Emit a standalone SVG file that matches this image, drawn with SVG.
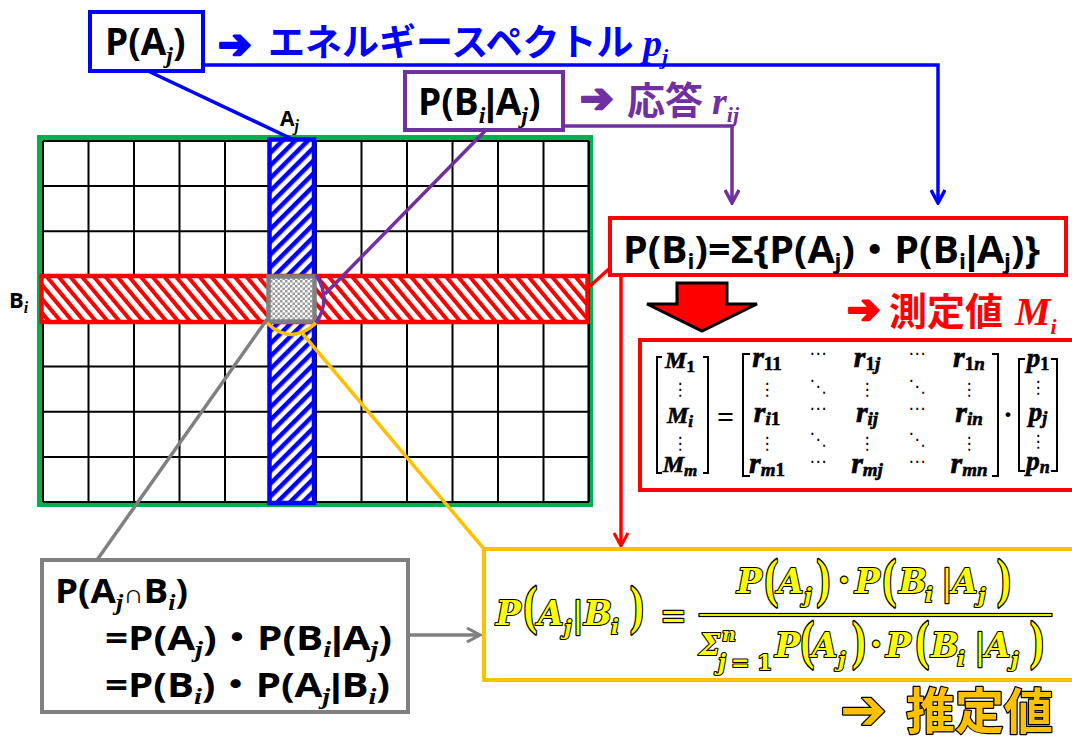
<svg xmlns="http://www.w3.org/2000/svg" width="1072" height="738" viewBox="0 0 1072 738">
<style>
.b{font-family:"Open Sans","Noto Sans CJK JP",sans-serif;font-weight:700;fill:#000}
.bar{font-family:"Liberation Sans",sans-serif;font-weight:700}
.jp{font-family:"Noto Sans CJK JP",sans-serif;font-weight:700}
.si{font-family:"Liberation Serif",serif;font-style:italic;font-weight:700}
.ar{font-family:"DejaVu Sans",sans-serif;stroke-width:2.5;stroke-linejoin:round}
.m{font-family:"Liberation Serif",serif;font-style:italic;font-weight:700;fill:#000;stroke:#000;stroke-width:0.6;text-anchor:middle}
.mu{font-family:"Liberation Serif",serif;font-style:normal;font-weight:700}
.d{font-family:"DejaVu Sans",sans-serif;font-size:17px;text-anchor:middle;fill:#000}
.yf{font-family:"DejaVu Serif",serif;font-style:italic;font-weight:700;fill:#FFFF00;stroke:#000;stroke-width:2.2;paint-order:stroke;stroke-linejoin:round}
.yu{font-family:"DejaVu Serif",serif;font-weight:700;fill:#FFFF00;stroke:#000;stroke-width:2.2;paint-order:stroke;stroke-linejoin:round}
.yp{font-family:"Liberation Serif",serif;font-weight:700;fill:#FFFF00;stroke:#000;stroke-width:2.4;paint-order:stroke;stroke-linejoin:round;text-anchor:middle}
.box{fill:#fff;stroke-width:4}
.ln{fill:none;stroke-width:3.5}
</style>
<defs>
<pattern id="hb" patternUnits="userSpaceOnUse" width="9" height="9" patternTransform="rotate(45)">
<rect width="9" height="9" fill="#fff"/><rect width="4.5" height="9" fill="#0000FF"/>
</pattern>
<pattern id="hr" patternUnits="userSpaceOnUse" width="9" height="9" patternTransform="rotate(-40)">
<rect width="9" height="9" fill="#fff"/><rect width="4" height="9" fill="#FF0000"/>
</pattern>
<pattern id="ck" patternUnits="userSpaceOnUse" width="5" height="5">
<rect width="5" height="5" fill="#fff"/><rect width="2.5" height="2.5" fill="#9a9a9a"/><rect x="2.5" y="2.5" width="2.5" height="2.5" fill="#9a9a9a"/>
</pattern>
<marker id="mb" viewBox="0 0 16 16" markerUnits="userSpaceOnUse" markerWidth="16" markerHeight="16" refX="14" refY="8" orient="auto"><path d="M1,1 L14,8 L1,15" fill="none" stroke="#0000FF" stroke-width="3.5"/></marker>
<marker id="mp" viewBox="0 0 16 16" markerUnits="userSpaceOnUse" markerWidth="16" markerHeight="16" refX="14" refY="8" orient="auto"><path d="M1,1 L14,8 L1,15" fill="none" stroke="#7030A0" stroke-width="3.5"/></marker>
<marker id="mr" viewBox="0 0 16 16" markerUnits="userSpaceOnUse" markerWidth="16" markerHeight="16" refX="14" refY="8" orient="auto"><path d="M1,1 L14,8 L1,15" fill="none" stroke="#FF0000" stroke-width="3"/></marker>
<marker id="mg" viewBox="0 0 16 16" markerUnits="userSpaceOnUse" markerWidth="16" markerHeight="16" refX="14" refY="8" orient="auto"><path d="M1,1 L14,8 L1,15" fill="none" stroke="#808080" stroke-width="3"/></marker>
</defs>
<rect width="1072" height="738" fill="#fff"/>

<g id="grid">
<rect x="40" y="138" width="550" height="366" fill="#fff" stroke="#00B050" stroke-width="6"/>
<path stroke="#000" stroke-width="2" fill="none" d="M43 141V502M88.5 141V502M134 141V502M179.5 141V502M225 141V502M270.5 141V502M316 141V502M361.5 141V502M407 141V502M452.5 141V502M498 141V502M543.5 141V502M589 141V502M43 141H589M43 186.1H589M43 231.3H589M43 276.4H589M43 321.5H589M43 366.6H589M43 411.8H589M43 456.9H589M43 502H589"/>
<text class="b" x="280" y="126" font-size="21">A<tspan class="si" font-size="16" dy="5">j</tspan></text>
<text class="b" x="9" y="308" font-size="22">B<tspan class="si" font-size="16" dy="5">i</tspan></text>
</g>

<g id="column-Aj">
<rect x="269.5" y="139.5" width="44.5" height="363.5" fill="url(#hb)" stroke="#0000FF" stroke-width="4.5"/>
</g>
<g id="row-Bi">
<rect x="41.5" y="276" width="546" height="46" fill="url(#hr)" stroke="#FF0000" stroke-width="4.5"/>
</g>
<g id="cell-AjBi">
<rect x="268.5" y="276.5" width="46" height="45" fill="url(#ck)" stroke="#808080" stroke-width="4.5"/>
</g>

<g id="connectors">
<polyline class="ln" stroke="#0000FF" points="203,65 938,65 938,203" marker-end="url(#mb)"/>
<line class="ln" stroke="#0000FF" x1="148" y1="71" x2="292" y2="139"/>
<polyline class="ln" stroke="#7030A0" points="563,126 732,126 732,203" marker-end="url(#mp)"/>
<line class="ln" stroke="#7030A0" x1="485" y1="131" x2="325" y2="294"/>
<path class="ln" stroke="#7030A0" d="M316,275 Q332,299 316,323"/>
<line class="ln" stroke="#FF0000" stroke-width="3" x1="588" y1="288" x2="611" y2="267"/>
<line class="ln" stroke="#FF0000" stroke-width="3" x1="621" y1="276" x2="621" y2="546" marker-end="url(#mr)"/>
<line class="ln" stroke="#808080" stroke-width="3" x1="268" y1="318" x2="97" y2="560"/>
<line class="ln" stroke="#808080" stroke-width="3" x1="408" y1="635" x2="480" y2="635" marker-end="url(#mg)"/>
<path class="ln" stroke="#FFC000" d="M267,323 Q291,346 316,323"/>
<line class="ln" stroke="#FFC000" x1="302" y1="333" x2="484" y2="549"/>
</g>

<g id="node-PAj">
<rect class="box" x="90" y="12" width="113" height="59" stroke="#0000FF"/>
<text class="b" x="105" y="55" font-size="37">P(A<tspan class="si" font-size="24" dy="8">j</tspan><tspan dy="-8">)</tspan></text>
<text class="ar" x="218" y="58" font-size="40" fill="#0000FF" stroke="#0000FF">➔</text>
<text class="jp" x="268" y="56" font-size="37" fill="#0000FF">エネルギースペクトル</text>
<text class="si" x="643" y="56" font-size="38" fill="#0000FF">p<tspan font-size="22" dy="8">j</tspan></text>
</g>

<g id="node-PBiAj">
<rect class="box" x="405" y="72" width="158" height="58" stroke="#7030A0"/>
<text class="b" x="418" y="115" font-size="37">P(B<tspan class="si" font-size="24" dy="8">i</tspan><tspan class="bar" dy="-8">|</tspan><tspan>A</tspan><tspan class="si" font-size="24" dy="8">j</tspan><tspan dy="-8">)</tspan></text>
<text class="ar" x="580" y="112" font-size="40" fill="#7030A0" stroke="#7030A0">➔</text>
<text class="jp" x="627" y="114" font-size="38" fill="#7030A0">応答</text>
<text class="si" x="712" y="114" font-size="38" fill="#7030A0">r<tspan font-size="22" dy="8">ij</tspan></text>
</g>

<g id="node-PBi">
<rect class="box" x="610" y="218" width="456" height="57" stroke="#FF0000"/>
<text class="b" x="623" y="263" font-size="38" textLength="417" lengthAdjust="spacingAndGlyphs">P(B<tspan font-size="22" dy="6">i</tspan><tspan dy="-6">)=Σ{P(A</tspan><tspan font-size="22" dy="6">j</tspan><tspan dy="-6">)・P(B</tspan><tspan font-size="22" dy="6">i</tspan><tspan class="bar" dy="-6">|</tspan><tspan>A</tspan><tspan font-size="22" dy="6">j</tspan><tspan dy="-6">)}</tspan></text>
<polygon points="677,283 727,283 727,304 757,304 702,331 647,304 677,304" fill="#FF0000" stroke="#000" stroke-width="3" stroke-linejoin="miter"/>
<text class="ar" x="847" y="323" font-size="40" fill="#FF0000" stroke="#FF0000">➔</text>
<text class="jp" x="889" y="325" font-size="38" fill="#FF0000">測定値</text>
<text class="si" x="1015" y="325" font-size="40" fill="#FF0000">M<tspan font-size="22" dy="9">i</tspan></text>
</g>

<g id="node-matrix">
<rect class="box" x="640" y="340" width="440" height="150" stroke="#FF0000" stroke-width="4.5"/>
<path fill="none" stroke="#000" stroke-width="2" d="M662,357H657V473H662M703,357H708V473H703M750,354H743V476H750M992,354H998V476H992M1025,359H1019V471H1025M1051,359H1057V471H1051"/>
<text class="m" x="680" y="368" font-size="24">M<tspan class="mu" font-size="17" dy="4">1</tspan></text>
<text class="m" x="680" y="423" font-size="24">M<tspan font-size="17" dy="4">i</tspan></text>
<text class="m" x="680" y="472" font-size="24">M<tspan font-size="17" dy="4">m</tspan></text>
<text class="d" x="680" y="395">⋮</text>
<text class="d" x="680" y="449">⋮</text>
<text class="mu" x="725.5" y="427" font-size="30" text-anchor="middle">=</text>
<text class="m" x="767" y="367" font-size="30">r<tspan class="mu" font-size="19" dy="3">11</tspan></text>
<text class="m" x="767" y="422" font-size="30">r<tspan font-size="19" dy="3">i</tspan><tspan class="mu" font-size="19">1</tspan></text>
<text class="m" x="767" y="473" font-size="30">r<tspan font-size="19" dy="3">m</tspan><tspan class="mu" font-size="19">1</tspan></text>
<text class="m" x="867" y="367" font-size="30">r<tspan class="mu" font-size="19" dy="3">1</tspan><tspan font-size="19">j</tspan></text>
<text class="m" x="867" y="422" font-size="30">r<tspan font-size="19" dy="3">ij</tspan></text>
<text class="m" x="867" y="473" font-size="30">r<tspan font-size="19" dy="3">mj</tspan></text>
<text class="m" x="969" y="367" font-size="30">r<tspan class="mu" font-size="19" dy="3">1</tspan><tspan font-size="19">n</tspan></text>
<text class="m" x="969" y="422" font-size="30">r<tspan font-size="19" dy="3">in</tspan></text>
<text class="m" x="969" y="473" font-size="30">r<tspan font-size="19" dy="3">mn</tspan></text>
<text class="d" x="818" y="359">⋯</text>
<text class="d" x="917" y="359">⋯</text>
<text class="d" x="818" y="414">⋯</text>
<text class="d" x="917" y="414">⋯</text>
<text class="d" x="818" y="467">⋯</text>
<text class="d" x="917" y="467">⋯</text>
<text class="d" x="767" y="395">⋮</text>
<text class="d" x="867" y="395">⋮</text>
<text class="d" x="969" y="395">⋮</text>
<text class="d" x="818" y="392">⋱</text>
<text class="d" x="917" y="392">⋱</text>
<text class="d" x="767" y="449">⋮</text>
<text class="d" x="867" y="449">⋮</text>
<text class="d" x="969" y="449">⋮</text>
<text class="d" x="818" y="445">⋱</text>
<text class="d" x="917" y="445">⋱</text>
<text class="mu" x="1008" y="424" font-size="30" text-anchor="middle">·</text>
<text class="m" x="1038" y="367" font-size="27">p<tspan class="mu" font-size="18" dy="3">1</tspan></text>
<text class="m" x="1038" y="421" font-size="27">p<tspan font-size="18" dy="3">j</tspan></text>
<text class="m" x="1038" y="470" font-size="27">p<tspan font-size="18" dy="3">n</tspan></text>
<text class="d" x="1038" y="393">⋮</text>
<text class="d" x="1038" y="447">⋮</text>
</g>

<g id="node-joint">
<rect class="box" x="42" y="560" width="366" height="152" stroke="#808080"/>
<text class="b" x="55" y="603" font-size="34" textLength="133" lengthAdjust="spacingAndGlyphs">P(A<tspan class="si" font-size="24" dy="7">j</tspan><tspan font-family="Liberation Sans" font-size="26" dy="-7">∩</tspan><tspan>B</tspan><tspan class="si" font-size="24" dy="7">i</tspan><tspan dy="-7">)</tspan></text>
<text class="b" x="105" y="650" font-size="34" textLength="287" lengthAdjust="spacingAndGlyphs">=P(A<tspan class="si" font-size="24" dy="7">j</tspan><tspan dy="-7">)・P(B</tspan><tspan class="si" font-size="24" dy="7">i</tspan><tspan class="bar" dy="-7">|</tspan><tspan>A</tspan><tspan class="si" font-size="24" dy="7">j</tspan><tspan dy="-7">)</tspan></text>
<text class="b" x="105" y="697" font-size="34" textLength="285" lengthAdjust="spacingAndGlyphs">=P(B<tspan class="si" font-size="24" dy="7">i</tspan><tspan dy="-7">)・P(A</tspan><tspan class="si" font-size="24" dy="7">j</tspan><tspan class="bar" dy="-7">|</tspan><tspan>B</tspan><tspan class="si" font-size="24" dy="7">i</tspan><tspan dy="-7">)</tspan></text>
</g>

<g id="node-bayes">
<rect class="box" x="484" y="549" width="600" height="131" stroke="#FFC000" stroke-width="4.5"/>
<text class="yf" x="496" y="625" font-size="33">P</text>
<text class="yp" font-size="40" transform="translate(530.5,623) scale(1,1.3)">(</text>
<text class="yf" x="538" y="625" font-size="33">A</text>
<text class="yf" x="564" y="635" font-size="21">j</text>
<text class="yp" x="578" y="627" font-size="38">|</text>
<text class="yf" x="584" y="625" font-size="33">B</text>
<text class="yf" x="611" y="634" font-size="21">i</text>
<text class="yp" font-size="40" transform="translate(637,623) scale(1,1.3)">)</text>
<text class="yp" x="673.5" y="630" font-size="42">=</text>

<text class="yf" x="737" y="593" font-size="33">P</text>
<text class="yp" font-size="40" transform="translate(771.5,596) scale(1,1.3)">(</text>
<text class="yf" x="778" y="593" font-size="33">A</text>
<text class="yf" x="804" y="603" font-size="21">j</text>
<text class="yp" font-size="40" transform="translate(823.5,596) scale(1,1.3)">)</text>
<text class="yp" x="844" y="593" font-size="38">·</text>
<text class="yf" x="855" y="593" font-size="33">P</text>
<text class="yp" font-size="40" transform="translate(889.5,596) scale(1,1.3)">(</text>
<text class="yf" x="899" y="593" font-size="33">B</text>
<text class="yf" x="925" y="602" font-size="21">i</text>
<text class="yp" x="947" y="595" font-size="38">|</text>
<text class="yf" x="952" y="593" font-size="33">A</text>
<text class="yf" x="978" y="603" font-size="21">j</text>
<text class="yp" font-size="40" transform="translate(1004,596) scale(1,1.3)">)</text>

<rect x="699" y="613.5" width="353" height="3" fill="#FFFF00" stroke="#000" stroke-width="1.2"/>

<text class="yf" x="699" y="655" font-size="30">Σ</text>
<text class="yf" x="722" y="641" font-size="19">n</text>
<text class="yf" x="718" y="670" font-size="22">j</text>
<text class="yu" x="731" y="670" font-size="22">=</text>
<text class="yu" x="757" y="670" font-size="22">1</text>
<text class="yf" x="775" y="657" font-size="33">P</text>
<text class="yp" font-size="40" transform="translate(807.5,658) scale(1,1.3)">(</text>
<text class="yf" x="812" y="657" font-size="33">A</text>
<text class="yf" x="838" y="667" font-size="21">j</text>
<text class="yp" font-size="40" transform="translate(859,658) scale(1,1.3)">)</text>
<text class="yp" x="876" y="657" font-size="38">·</text>
<text class="yf" x="886" y="657" font-size="33">P</text>
<text class="yp" font-size="40" transform="translate(922.5,658) scale(1,1.3)">(</text>
<text class="yf" x="931" y="657" font-size="33">B</text>
<text class="yf" x="957" y="666" font-size="21">i</text>
<text class="yp" x="980" y="659" font-size="38">|</text>
<text class="yf" x="985" y="657" font-size="33">A</text>
<text class="yf" x="1011" y="667" font-size="21">j</text>
<text class="yp" font-size="40" transform="translate(1037,658) scale(1,1.3)">)</text>
</g>

<g id="label-estimate">
<text class="ar" x="840" y="729" font-size="56" fill="#FFC000" stroke="#000" stroke-width="2" paint-order="stroke">➔</text>
<text class="jp" x="906" y="729" font-size="49" fill="#FFC000" stroke="#000" stroke-width="2.5" paint-order="stroke" stroke-linejoin="round">推定値</text>
</g>
</svg>
